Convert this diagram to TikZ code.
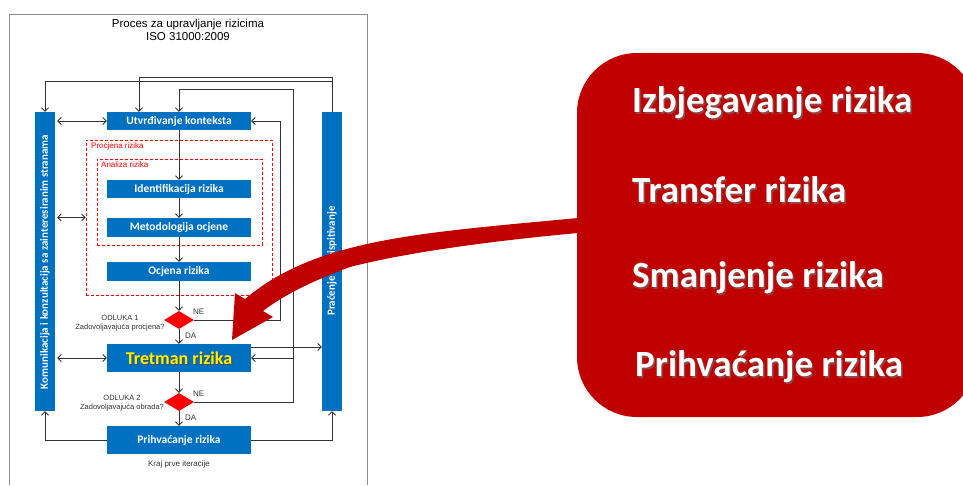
\documentclass[tikz,border=0pt]{standalone}
\usepackage{fontspec}
\setmainfont{Liberation Sans}
\newfontfamily\calib{Carlito}
\usetikzlibrary{arrows.meta,shapes.geometric}
\definecolor{ibl}{HTML}{0070C0}
\definecolor{dred}{HTML}{C00000}
\definecolor{bred}{HTML}{FF0000}
\definecolor{lc}{HTML}{333333}
\definecolor{frm}{HTML}{8C8C8C}
\tikzset{
  box/.style={fill=ibl, inner sep=0pt, minimum width=144pt, text=white, font=\calib\bfseries\fontsize{11.5}{13}\selectfont},
  bar/.style={fill=ibl, inner sep=0pt, minimum width=20pt, minimum height=299pt},
  bartext/.style={rotate=90, text=white, inner sep=0pt, font=\calib\bfseries\fontsize{11}{13}\selectfont},
  dbox/.style={draw=bred, dash pattern=on 3pt off 2pt, line width=0.8pt, inner sep=0pt},
  dlab/.style={text=bred, inner sep=0pt, anchor=west, font=\fontsize{8}{9}\selectfont},
  dia/.style={diamond, fill=bred, inner sep=0pt, minimum width=30pt, minimum height=18pt},
  lab/.style={inner sep=0pt, text=lc, font=\fontsize{7.5}{9}\selectfont},
  yn/.style={inner sep=0pt, anchor=west, text=lc, font=\fontsize{8}{9}\selectfont},
  arr/.style={-{Straight Barb[length=3.5pt,width=7pt]}, draw=lc, line width=0.8pt},
  darr/.style={{Straight Barb[length=3.5pt,width=7pt]}-{Straight Barb[length=3.5pt,width=7pt]}, draw=lc, line width=0.8pt, shorten <=2pt},
  big/.style={inner sep=0pt, anchor=west, font=\calib\bfseries\fontsize{37}{40}\selectfont},
}
\begin{document}
\begin{tikzpicture}[x=1pt,y=-1pt]
\useasboundingbox (0,0) rectangle (963,485);
\fill[white] (0,0) rectangle (963,485);
% frame
\draw[frm, line width=0.9pt] (9,485) -- (9,14) -- (367,14) -- (367,485);
\node[inner sep=0pt, align=center, font=\fontsize{11.5}{13}\selectfont] (title) at (188,30) {Proces za upravljanje rizicima\\ISO 31000:2009};
% bars
\node[bar] (kom) at (45,261.5) {};
\node[bartext] (komt) at (45,262) {Komunikacija i konzultacija sa zainteresiranim stranama};
\node[bar] (prac) at (332,261.5) {};
\node[bartext] (pract) at (332,261) {Praćenje i preispitivanje};
% dashed groups
\node[dbox, minimum width=186pt, minimum height=155pt] (proc) at (179,217.5) {};
\node[dlab] (procl) at (91,146) {Procjena rizika};
\node[dbox, minimum width=165pt, minimum height=86pt] (ana) at (179.5,202) {};
\node[dlab] (anal) at (101,165) {Analiza rizika};
% boxes
\node[box, minimum height=18pt] (utv) at (179,121) {Utvrđivanje konteksta};
\node[box, minimum height=18pt] (ide) at (179,189) {Identifikacija rizika};
\node[box, minimum height=19pt] (met) at (179,227.5) {Metodologija ocjene};
\node[box, minimum height=19pt] (ocj) at (179,271.5) {Ocjena rizika};
\node[box, minimum height=28pt] (tret) at (179,358) {};
\node[inner sep=0pt, text=black!70, font=\calib\bfseries\fontsize{18}{20}\selectfont] (tretsh) at (180,359) {Tretman rizika};
\node[inner sep=0pt, text=yellow, font=\calib\bfseries\fontsize{18}{20}\selectfont] (trett) at (179,358) {Tretman rizika};
\node[box, minimum height=28pt] (pri) at (179,440) {Prihvaćanje rizika};
\node[dia] (d1) at (179,320) {};
\node[dia] (d2) at (179,402) {};
\node[lab, align=center] (o1) at (120,323) {ODLUKA 1\\Zadovoljavajuća procjena?};
\node[lab, align=center] (o2) at (122,403.5) {ODLUKA 2\\Zadovoljavajuća obrada?};
\node[yn] (ne1) at (193,312) {NE};
\node[yn] (da1) at (185,336) {DA};
\node[yn] (ne2) at (193,394) {NE};
\node[yn] (da2) at (185,418) {DA};
\node[lab, font=\fontsize{8}{9}\selectfont] (kraj) at (179,464) {Kraj prve iteracije};
% main flow
\draw[arr] (utv) -- (ide);
\draw[arr] (ide) -- (met);
\draw[arr] (met) -- (ocj);
\draw[arr] (ocj) -- (d1);
\draw[arr] (d1) -- (tret);
\draw[arr] (tret) -- (d2);
\draw[arr] (d2) -- (pri);
% top feedback from monitoring
\coordinate (c1) at (139,77);
\coordinate (c2) at (45,81);
\draw[arr] (prac.north) |- (c1) -- (c1 |- utv.north);
\draw[arr] (prac.north) |- (c2) -- (c2 |- kom.north);
% decision 2 loop
\coordinate (c3) at (293,89);
\draw[arr] (d2.east) -| (c3) -- (utv.north |- c3) -- (utv.north);
\draw[arr] (c3 |- tret.east) -- (tret.east);
% decision 1 loop
\coordinate (c5) at (280,121);
\draw[arr] (d1.east) -| (c5) -- (utv.east);
% treatment to monitoring
\path ([yshift=11pt]tret.east) coordinate (t1);
\draw[arr] (t1) -- (t1 -| prac.west);
% acceptance to bars
\draw[arr] (pri.west) -| (kom.south);
\draw[arr] (pri.east) -| (prac.south);
% communication double arrows
\draw[darr] (kom.east |- utv.west) -- (utv.west);
\draw[darr] (kom.east |- proc.west) -- (proc.west);
\draw[darr] (kom.east |- tret.west) -- (tret.west);
% red box
\fill[dred, rounded corners=60pt] (577,53) rectangle (977,417);
\foreach \n/\t/\xx/\yy in {a/Izbjegavanje rizika/632/103, b/Transfer rizika/632/190, c/Smanjenje rizika/632/278, d/Prihvaćanje rizika/635/367}{
  \node[big, text=black!55, opacity=0.6] (sh\n) at (\xx+1.5,\yy+1.5) {\t};
  \node[big, text=white] (tx\n) at (\xx,\yy) {\t};
}
% red arrow
\fill[dred] (600,216) -- (578,218) .. controls (470,228) and (400,234) .. (343,250) .. controls (300,262) and (270,278) .. (245,299) -- (235,293) -- (232,340) -- (273,317) -- (263,311) .. controls (285,294) and (315,280) .. (350,267) .. controls (400,254) and (480,242) .. (578,233) -- (600,233) -- cycle;
\end{tikzpicture}
\end{document}
